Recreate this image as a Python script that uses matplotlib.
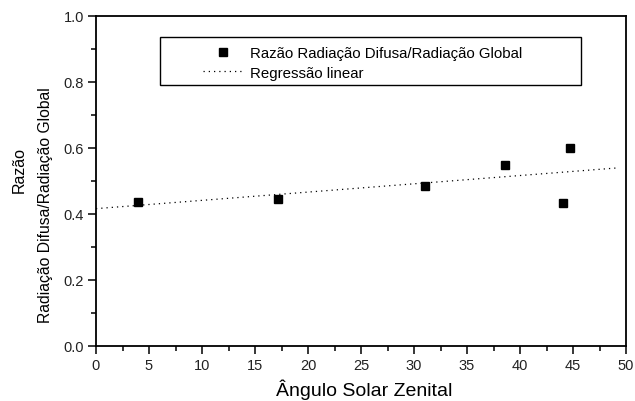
import matplotlib
matplotlib.use("Agg")
import matplotlib.pyplot as plt
import numpy as np
from matplotlib import font_manager as fm
from matplotlib.patches import Rectangle
from matplotlib.ticker import MultipleLocator

# Data
angulo = [4.0, 17.2, 31.0, 38.6, 44.7, 44.1]
razao = [0.435, 0.445, 0.485, 0.549, 0.600, 0.434]
fit_x_range = [0.0, 49.3]
serie_label = "Razão Radiação Difusa/Radiação Global"
fit_label = "Regressão linear"
xlabel = "Ângulo Solar Zenital"
ylabel_1 = "Razão"
ylabel_2 = "Radiação Difusa/Radiação Global"

names = {f.name for f in fm.fontManager.ttflist}
main_font = "Liberation Sans" if "Liberation Sans" in names else "DejaVu Sans"

plt.rcParams['font.family'] = [main_font, 'DejaVu Sans']

W, H = 635, 402
fig = plt.figure(figsize=(W/100, H/100), dpi=100)
ax = fig.add_axes([96/W, 1-347/H, 530/W, 330/H])

slope, intercept = np.polyfit(angulo, razao, 1)
fx = np.array(fit_x_range)
ax.plot(fx, intercept + slope*fx, linestyle=(0, (1, 3.2)), color='black', lw=0.9,
        label=fit_label)
ax.plot(angulo, razao, linestyle='none', marker='s', ms=5.2, color='black',
        label=serie_label)

ax.set_xlim(0, 50)
ax.set_ylim(0, 1.0)
ax.xaxis.set_major_locator(MultipleLocator(5))
ax.xaxis.set_minor_locator(MultipleLocator(2.5))
ax.yaxis.set_major_locator(MultipleLocator(0.2))
ax.yaxis.set_minor_locator(MultipleLocator(0.1))
ax.yaxis.set_major_formatter(plt.FuncFormatter(lambda v, p: f"{v:.1f}"))

for s in ax.spines.values():
    s.set_linewidth(1.3)
ax.tick_params(which='major', direction='out', length=5.5, width=1.1, pad=3,
               labelsize=10.5, labelcolor='#222222')
ax.tick_params(which='minor', direction='out', length=3.5, width=1.1)

# axis labels
fig.text(364/W, 1.5/H, xlabel, fontsize=14, ha='center', va='bottom')
fig.text(19.5/W, 1-170/H, ylabel_1, fontsize=11.5, ha='center', va='center',
         rotation=90)
fig.text(45.5/W, 1-205/H, ylabel_2, fontsize=11.3, ha='center', va='center',
         rotation=90)

# legend frame
lx0 = (160-96)/530; lx1 = (581-96)/530
ly0 = (347-86)/330; ly1 = (347-38)/330
ax.add_patch(Rectangle((lx0, ly0), lx1-lx0, ly1-ly0, transform=ax.transAxes,
                       fill=False, edgecolor='black', lw=1.0, zorder=5))
h, l = ax.get_legend_handles_labels()
leg = ax.legend(h[::-1], l[::-1], loc='upper left',
                bbox_to_anchor=((203-96)/530, (347-47)/330),
                frameon=False, fontsize=10.8, handlelength=2.7, handletextpad=0.45,
                labelspacing=0.38, borderpad=0, borderaxespad=0, numpoints=1)

fig.savefig("out.png", dpi=100)
